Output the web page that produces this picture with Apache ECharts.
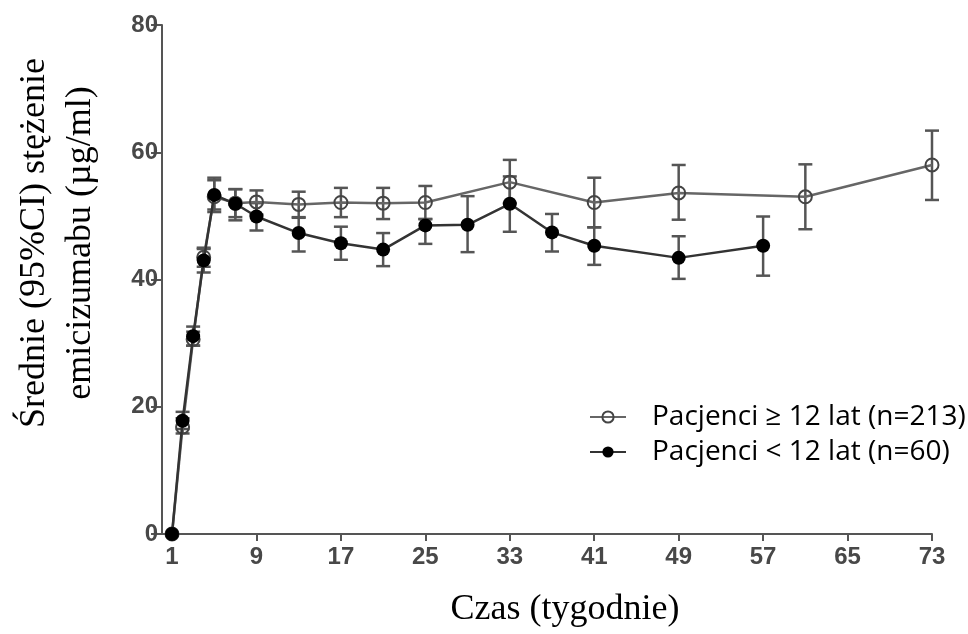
<!DOCTYPE html>
<html lang="pl">
<head>
    <meta charset="UTF-8">
    <title>Stężenie emicizumabu</title>
    <script src="https://cdn.jsdelivr.net/npm/echarts@6/dist/echarts.min.js"></script>
    <style>
        html, body { margin: 0; padding: 0; background: #fff; }
        #chart { width: 968px; height: 634px; }
    </style>
</head>
<body>
<div id="chart"></div>

<script type="text/javascript">

    // Pacjenci >= 12 lat (open circles)
    var weeksOld = [1, 2, 3, 4, 5, 7, 9, 13, 17, 21, 25, 33, 41, 49, 61, 73];
    var meanOld  = [0, 16.8, 30.6, 43.5, 53.0, 52.0, 52.2, 51.8, 52.1, 52.0, 52.1, 55.3, 52.1, 53.6, 53.0, 58.0];
    var lowOld   = [0, 15.8, 29.6, 42.0, 50.6, 49.8, 50.2, 49.7, 49.8, 49.5, 49.5, 52.0, 48.2, 49.4, 47.9, 52.5];
    var highOld  = [0, 18.2, 31.8, 45.0, 55.6, 54.2, 54.0, 53.8, 54.4, 54.4, 54.7, 58.8, 56.0, 58.0, 58.1, 63.4];

    // Pacjenci < 12 lat (filled circles)
    var weeksYoung = [1, 2, 3, 4, 5, 7, 9, 13, 17, 21, 25, 29, 33, 37, 41, 49, 57];
    var meanYoung  = [0, 17.8, 31.1, 43.0, 53.3, 51.9, 49.9, 47.3, 45.7, 44.7, 48.5, 48.6, 51.9, 47.4, 45.3, 43.4, 45.3];
    var lowYoung   = [0, 16.5, 29.6, 41.1, 51.0, 49.3, 47.7, 44.4, 43.1, 42.1, 45.6, 44.3, 47.5, 44.4, 42.3, 40.1, 40.6];
    var highYoung  = [0, 19.2, 32.6, 44.8, 56.0, 54.2, 52.0, 49.8, 48.3, 47.3, 49.5, 53.1, 56.2, 50.3, 48.2, 46.8, 49.9];

    var xTicks = [1, 9, 17, 25, 33, 41, 49, 57, 65, 73];

    var nameOld = 'Pacjenci \u2265 12 lat (n=213)';
    var nameYoung = 'Pacjenci < 12 lat (n=60)';

    function pairs(xs, ys) {
        return xs.map(function (x, i) { return [x, ys[i]]; });
    }
    function bars(xs, lo, hi) {
        return xs.map(function (x, i) { return [x, lo[i], hi[i]]; });
    }

    function renderErrorBar(params, api) {
        var x = api.value(0), lo = api.value(1), hi = api.value(2);
        if (hi <= lo) return;
        var pLo = api.coord([x, lo]);
        var pHi = api.coord([x, hi]);
        var w = 7;
        var style = {stroke: '#555', lineWidth: 2.5};
        return {
            type: 'group',
            children: [
                {type: 'line', shape: {x1: pLo[0], y1: pLo[1], x2: pHi[0], y2: pHi[1]}, style: style},
                {type: 'line', shape: {x1: pLo[0] - w, y1: pLo[1], x2: pLo[0] + w, y2: pLo[1]}, style: style},
                {type: 'line', shape: {x1: pHi[0] - w, y1: pHi[1], x2: pHi[0] + w, y2: pHi[1]}, style: style}
            ]
        };
    }

    var chart = echarts.init(document.getElementById('chart'));

    var labelStyle = {
        fontFamily: 'Liberation Sans',
        fontSize: 24,
        fontWeight: 'bold',
        color: '#484848'
    };

    var option = {
        animation: false,
        backgroundColor: '#fff',
        grid: {left: 162, right: 36, top: 25, bottom: 100, containLabel: false},
        legend: {
            orient: 'vertical',
            left: 584,
            top: 397,
            itemWidth: 36,
            itemHeight: 14,
            itemGap: 5,
            data: [nameOld, nameYoung],
            textStyle: {
                fontFamily: 'Open Sans',
                fontSize: 28,
                color: '#000',
                lineHeight: 30,
                padding: [0, 0, 0, 21]
            }
        },
        xAxis: {
            type: 'value',
            min: 0.05,
            max: 73,
            splitLine: {show: false},
            axisLine: {lineStyle: {color: '#555', width: 2}},
            axisTick: {length: 7, lineStyle: {color: '#555', width: 2}, customValues: xTicks},
            axisLabel: Object.assign({margin: 11, customValues: xTicks}, labelStyle)
        },
        yAxis: {
            type: 'value',
            min: 0,
            max: 80,
            interval: 20,
            splitLine: {show: false},
            axisLine: {show: true, lineStyle: {color: '#555', width: 2}},
            axisTick: {show: true, length: 11, lineStyle: {color: '#555', width: 2}},
            axisLabel: Object.assign({margin: 4}, labelStyle)
        },
        graphic: [
            {
                type: 'text',
                x: 58,
                y: 243,
                rotation: Math.PI / 2,
                style: {
                    text: 'Średnie (95%CI) stężenie\nemicizumabu (µg/ml)',
                    font: '36px "Liberation Serif"',
                    fill: '#000',
                    align: 'center',
                    verticalAlign: 'middle',
                    lineHeight: 46
                }
            },
            {
                type: 'text',
                x: 565,
                y: 610,
                style: {
                    text: 'Czas (tygodnie)',
                    font: '36px "Liberation Serif"',
                    fill: '#000',
                    align: 'center',
                    verticalAlign: 'middle'
                }
            }
        ],
        series: [
            {
                name: 'errOld',
                type: 'custom',
                renderItem: renderErrorBar,
                encode: {x: 0, y: [1, 2]},
                data: bars(weeksOld, lowOld, highOld),
                z: 1
            },
            {
                name: 'errYoung',
                type: 'custom',
                renderItem: renderErrorBar,
                encode: {x: 0, y: [1, 2]},
                data: bars(weeksYoung, lowYoung, highYoung),
                z: 1
            },
            {
                name: nameOld,
                type: 'line',
                data: pairs(weeksOld, meanOld),
                symbol: 'circle',
                symbolSize: 13,
                itemStyle: {color: 'rgba(255,255,255,0)', borderColor: '#444', borderWidth: 2},
                lineStyle: {color: '#666', width: 2.5},
                z: 2
            },
            {
                name: nameYoung,
                type: 'line',
                data: pairs(weeksYoung, meanYoung),
                symbol: 'circle',
                symbolSize: 14,
                itemStyle: {color: '#000'},
                lineStyle: {color: '#333', width: 2.5},
                z: 3
            }
        ]
    };

    chart.setOption(option);

</script>
</body>
</html>
